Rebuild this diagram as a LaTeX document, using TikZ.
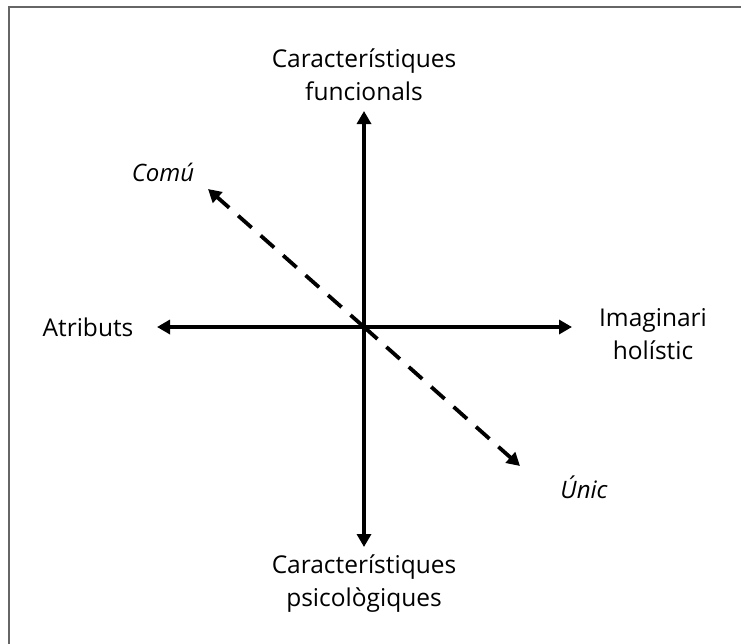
\documentclass[tikz,border=0pt]{standalone}
\usepackage{fontspec}
\setmainfont{Open Sans}
\usetikzlibrary{arrows.meta}
\begin{document}
\begin{tikzpicture}[x=1pt,y=-1pt,
  axis/.style={line width=3.8pt,-{Triangle[length=13pt,width=14pt]}},
  diag/.style={axis,dash pattern=on 18pt off 12pt},
  lbl/.style={font=\fontsize{24.5}{33}\selectfont,align=center,inner sep=0pt},
  ital/.style={lbl,font=\fontsize{24}{33}\selectfont\itshape}]
\useasboundingbox (0,0) rectangle (741,643);
% frame
\draw[line width=2pt,color=black!60] (9,650) -- (9,7) -- (750,7);
% centre and arrow ends
\coordinate (o) at (364,327);
\coordinate (up) at (364,111);
\coordinate (down) at (364,547);
\coordinate (left) at (157,327);
\coordinate (right) at (572,327);
\coordinate (common) at (208,189);
\coordinate (unique) at (520,466);
\draw[axis] (o) -- (up);
\draw[axis] (o) -- (down);
\draw[axis] (o) -- (left);
\draw[axis] (o) -- (right);
\draw[diag] (o) -- (common);
\draw[diag] (o) -- (unique);
% labels
\node[lbl] (top) at (364,75) {Característiques\\funcionals};
\node[lbl] (bot) at (364,584) {Característiques\\psicològiques};
\node[lbl] (att) at (88,327) {Atributs};
\node[lbl] (hol) at (653,334) {Imaginari\\holístic};
\node[ital] (com) at (163,172) {Comú};
\node[ital] (uni) at (584,487) {Únic};
\end{tikzpicture}
\end{document}
